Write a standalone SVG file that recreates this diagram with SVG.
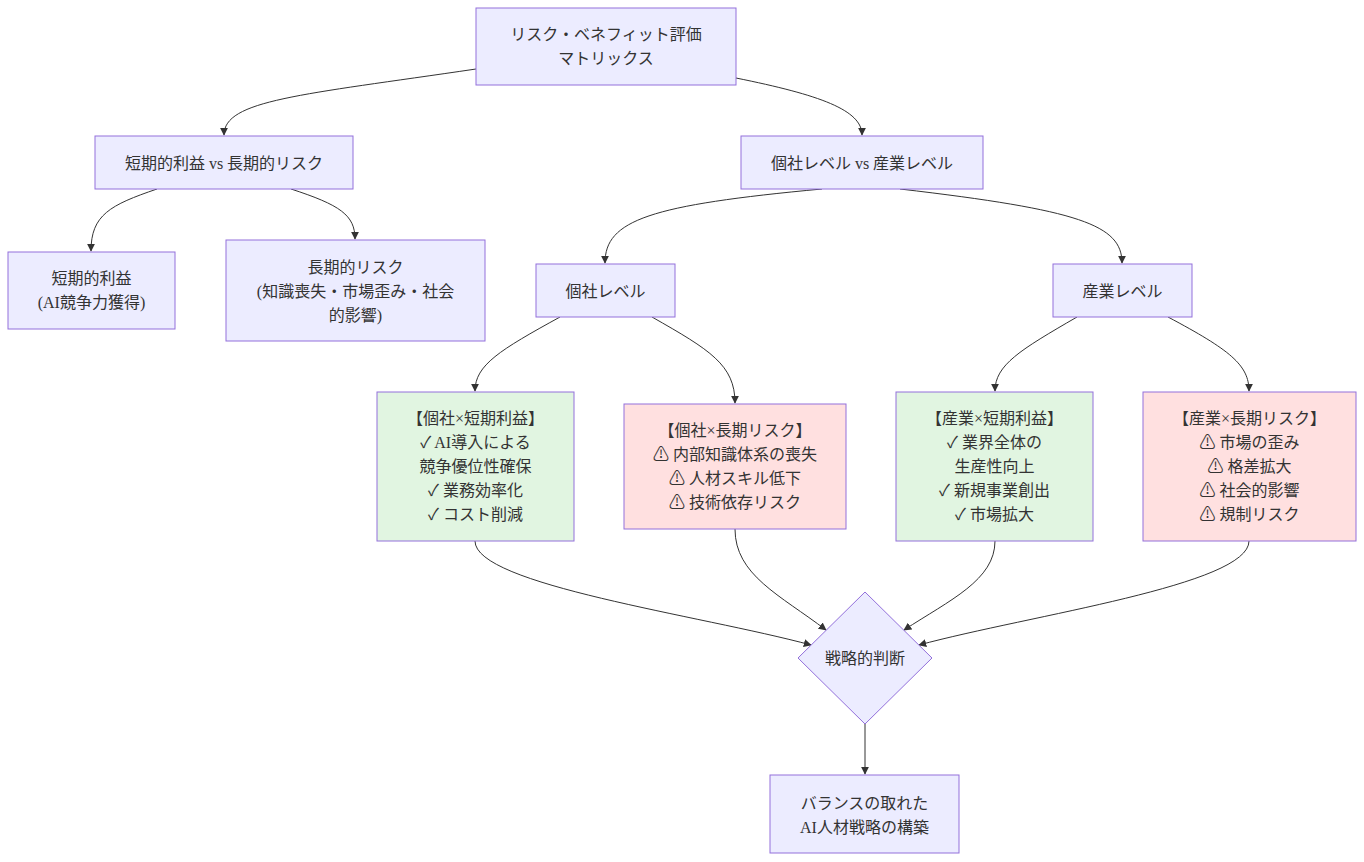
<svg xmlns="http://www.w3.org/2000/svg" width="1364" height="862" viewBox="0 0 1364 862">
<style>
.n{fill:#ECECFF;stroke:#9370DB;stroke-width:1}
.g{fill:#E1F5E1;stroke:#9370DB;stroke-width:1}
.r{fill:#FFE0E0;stroke:#9370DB;stroke-width:1}
.t{font-family:"Liberation Serif","Noto Sans CJK JP",serif;font-size:16px;fill:#333;text-anchor:middle;dominant-baseline:central}
.e{fill:none;stroke:#333;stroke-width:1;marker-end:url(#a)}
</style>
<defs>
<marker id="a" viewBox="0 0 10 10" refX="9" refY="5" markerWidth="8" markerHeight="8" orient="auto" markerUnits="userSpaceOnUse">
<path d="M0,0 L10,5 L0,10 z" fill="#333"/>
</marker>
</defs>
<rect width="1364" height="862" fill="#fff"/>
<g id="edges">
<path class="e" d="M476,69 C300,95 224,100 224,135"/>
<path class="e" d="M736,78 C820,95 862,110 862,135"/>
<path class="e" d="M157,189 C110,205 91,215 91,251"/>
<path class="e" d="M291,189 C340,205 355,215 355,239"/>
<path class="e" d="M822,189 C650,205 605,220 605,263"/>
<path class="e" d="M900,189 C1080,210 1122,225 1122,263"/>
<path class="e" d="M560,317 C500,350 475,365 475,391"/>
<path class="e" d="M652,317 C710,350 735,365 735,403"/>
<path class="e" d="M1077,317 C1020,350 995,365 995,391"/>
<path class="e" d="M1168,317 C1230,350 1249,365 1249,391"/>
<path class="e" d="M475,541 C475,585 700,615 811,645"/>
<path class="e" d="M735,529 C735,575 780,595 826,630"/>
<path class="e" d="M995,541 C995,580 950,600 904,630"/>
<path class="e" d="M1249,541 C1249,585 1030,615 919,645"/>
<path class="e" d="M865,724 L865,774"/>
</g>
<g id="root"><rect class="n" x="476" y="8" width="260" height="77"/>
<text class="t" x="606" y="34">リスク・ベネフィット評価</text><text class="t" x="606" y="58">マトリックス</text></g>
<g id="short_vs_long"><rect class="n" x="95" y="136" width="258" height="53"/>
<text class="t" x="224" y="163">短期的利益 vs 長期的リスク</text></g>
<g id="company_vs_industry"><rect class="n" x="741" y="136" width="242" height="53"/>
<text class="t" x="862" y="163">個社レベル vs 産業レベル</text></g>
<g id="short_benefit"><rect class="n" x="8" y="252" width="167" height="77"/>
<text class="t" x="91.5" y="278">短期的利益</text><text class="t" x="91.5" y="302">(AI競争力獲得)</text></g>
<g id="long_risk"><rect class="n" x="226" y="240" width="259" height="101"/>
<text class="t" x="355.5" y="267">長期的リスク</text><text class="t" x="355.5" y="291">(知識喪失・市場歪み・社会</text><text class="t" x="355.5" y="315">的影響)</text></g>
<g id="company"><rect class="n" x="536" y="264" width="139" height="53"/>
<text class="t" x="605.5" y="291">個社レベル</text></g>
<g id="industry"><rect class="n" x="1053" y="264" width="139" height="53"/>
<text class="t" x="1122.5" y="291">産業レベル</text></g>
<g id="company_short"><rect class="g" x="377" y="392" width="197" height="149"/>
<text class="t" x="475.5" y="418">【個社×短期利益】</text><text class="t" x="475.5" y="442">✓ AI導入による</text><text class="t" x="475.5" y="466">競争優位性確保</text><text class="t" x="475.5" y="490">✓ 業務効率化</text><text class="t" x="475.5" y="514">✓ コスト削減</text></g>
<g id="company_long"><rect class="r" x="624" y="404" width="222" height="125"/>
<text class="t" x="735" y="430">【個社×長期リスク】</text><text class="t" x="735" y="454">⚠ 内部知識体系の喪失</text><text class="t" x="735" y="478">⚠ 人材スキル低下</text><text class="t" x="735" y="502">⚠ 技術依存リスク</text></g>
<g id="industry_short"><rect class="g" x="896" y="392" width="197" height="149"/>
<text class="t" x="994.5" y="418">【産業×短期利益】</text><text class="t" x="994.5" y="442">✓ 業界全体の</text><text class="t" x="994.5" y="466">生産性向上</text><text class="t" x="994.5" y="490">✓ 新規事業創出</text><text class="t" x="994.5" y="514">✓ 市場拡大</text></g>
<g id="industry_long"><rect class="r" x="1143" y="392" width="213" height="149"/>
<text class="t" x="1249.5" y="418">【産業×長期リスク】</text><text class="t" x="1249.5" y="442">⚠ 市場の歪み</text><text class="t" x="1249.5" y="466">⚠ 格差拡大</text><text class="t" x="1249.5" y="490">⚠ 社会的影響</text><text class="t" x="1249.5" y="514">⚠ 規制リスク</text></g>
<g id="decision"><polygon class="n" points="865,592 932,658 865,724 798,658"/>
<text class="t" x="865" y="658">戦略的判断</text></g>
<g id="final"><rect class="n" x="770" y="775" width="189" height="78"/>
<text class="t" x="864.5" y="803">バランスの取れた</text><text class="t" x="864.5" y="827">AI人材戦略の構築</text></g>
</svg>
